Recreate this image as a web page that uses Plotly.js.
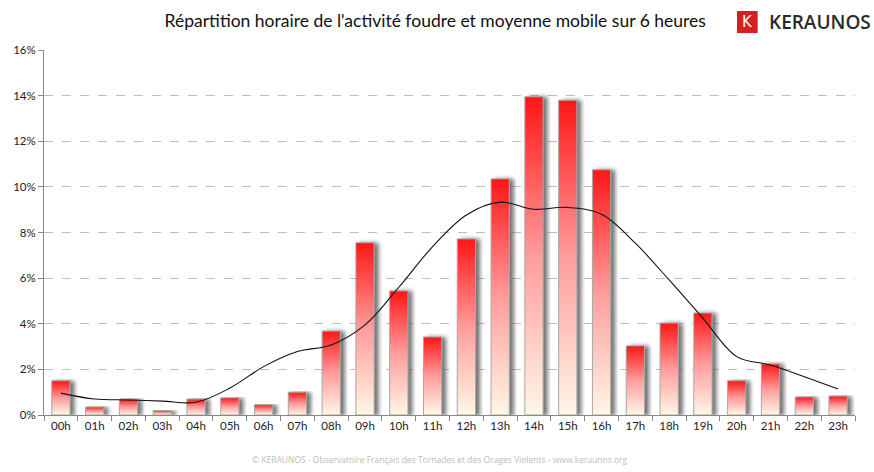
<!DOCTYPE html>
<html>
<head>
<meta charset="utf-8">
<script src="https://cdn.plot.ly/plotly-3.0.1.min.js"></script>
<style>
  html, body { margin: 0; padding: 0; background: #ffffff; }
  #chart { width: 874px; height: 472px; }
  .barlayer .point path {
    fill: url(#barGrad) !important;
    filter: url(#barShadow);
  }
</style>
</head>
<body>
<svg width="1" height="1" style="position:absolute; left:-10px; top:-10px">
  <defs>
    <linearGradient id="barGrad" x1="0" y1="0" x2="0" y2="1">
      <stop offset="0" stop-color="#ff1616"/>
      <stop offset="0.5" stop-color="#ff9c9c"/>
      <stop offset="1" stop-color="#fff7e6"/>
    </linearGradient>
    <filter id="barShadow" x="-30%" y="-5%" width="170%" height="110%">
      <feDropShadow dx="4" dy="0.5" stdDeviation="2" flood-color="#5a5a5a" flood-opacity="0.85"/>
    </filter>
  </defs>
</svg>
<div id="chart"></div>
<script>
const hours = ["00h","01h","02h","03h","04h","05h","06h","07h","08h","09h","10h","11h",
               "12h","13h","14h","15h","16h","17h","18h","19h","20h","21h","22h","23h"];
const hourlyShare = [1.5, 0.35, 0.7, 0.2, 0.7, 0.75, 0.45, 1.0, 3.68, 7.55, 5.44, 3.42,
                     7.72, 10.35, 13.95, 13.8, 10.75, 3.03, 4.03, 4.47, 1.5, 2.24, 0.79, 0.83];
const movingAvg6h = [0.96, 0.70, 0.66, 0.61, 0.56, 1.18, 2.12, 2.78, 3.07, 3.95, 5.6, 7.38,
                     8.77, 9.33, 9.02, 9.1, 8.8, 7.53, 5.92, 4.24, 2.56, 2.19, 1.68, 1.14];
const yTicks = [0, 2, 4, 6, 8, 10, 12, 14, 16];

const titleText = "Répartition horaire de l'activité foudre et moyenne mobile sur 6 heures";
const footerText = "© KERAUNOS - Observatoire Français des Tornades et des Orages Violents - www.keraunos.org";
const brandText = "KERAUNOS";

const traces = [
  {
    type: "bar",
    x: hours,
    y: hourlyShare,
    marker: { color: "#ff4040", line: { color: "#a8a8a8", width: 1 } },
    hoverinfo: "x+y",
    showlegend: false
  },
  {
    type: "scatter",
    mode: "lines",
    x: hours,
    y: movingAvg6h,
    line: { color: "#111111", width: 1.1, shape: "spline", smoothing: 1 },
    showlegend: false
  }
];

const layout = {
  width: 874,
  height: 472,
  margin: { l: 44, r: 19, t: 50, b: 57 },
  paper_bgcolor: "#ffffff",
  plot_bgcolor: "#ffffff",
  bargap: 0.46,
  font: { family: "Lato, 'Open Sans', sans-serif", color: "#222222", size: 11 },
  title: {
    text: titleText,
    font: { family: "Lato, 'Open Sans', sans-serif", size: 17.5, color: "#111111" },
    x: 0.498, xanchor: "center",
    y: 0.956, yanchor: "middle"
  },
  xaxis: {
    type: "category",
    tickson: "boundaries",
    ticks: "outside",
    ticklen: 5,
    tickcolor: "#888888",
    showline: true,
    linecolor: "#888888",
    linewidth: 1,
    showgrid: false,
    zeroline: false,
    tickfont: { size: 11.5, color: "#222222" },
    fixedrange: true
  },
  yaxis: {
    range: [0, 16],
    tickvals: yTicks,
    ticktext: yTicks.map(v => v + "%"),
    ticks: "outside",
    ticklen: 5,
    tickcolor: "#888888",
    showline: true,
    linecolor: "#888888",
    linewidth: 1,
    showgrid: true,
    gridcolor: "#bdbdbd",
    griddash: "dash",
    gridwidth: 1,
    zeroline: false,
    tickfont: { size: 11.5, color: "#222222" },
    fixedrange: true
  },
  shapes: [
    {
      type: "rect", xref: "paper", yref: "paper",
      x0: 0.8545, x1: 0.880, y0: 1.0466, y1: 1.1068,
      fillcolor: "#d42020", line: { width: 0 }
    }
  ],
  annotations: [
    {
      text: "K", xref: "paper", yref: "paper",
      x: 0.8673, y: 1.0767, xanchor: "center", yanchor: "middle",
      showarrow: false,
      font: { family: "'DejaVu Sans', sans-serif", size: 15, color: "#ffffff" }
    },
    {
      text: brandText, xref: "paper", yref: "paper",
      x: 0.891, y: 1.0767, xanchor: "left", yanchor: "middle",
      showarrow: false,
      font: { family: "'Open Sans', sans-serif", size: 19, color: "#2a2a2a", weight: 600 }
    },
    {
      text: footerText, xref: "paper", yref: "paper",
      x: 0.488, y: -0.123, xanchor: "center", yanchor: "middle",
      showarrow: false,
      font: { family: "'Open Sans', sans-serif", size: 8.5, color: "#bdbdbd" }
    }
  ]
};

function styleBars() {
  document.querySelectorAll("#chart .barlayer path").forEach(function (p) {
    p.style.setProperty("fill", "url(#barGrad)", "important");
    p.style.setProperty("filter", "url(#barShadow)");
  });
}

Plotly.newPlot("chart", traces, layout, { displayModeBar: false, staticPlot: true }).then(styleBars);
</script>
</body>
</html>
